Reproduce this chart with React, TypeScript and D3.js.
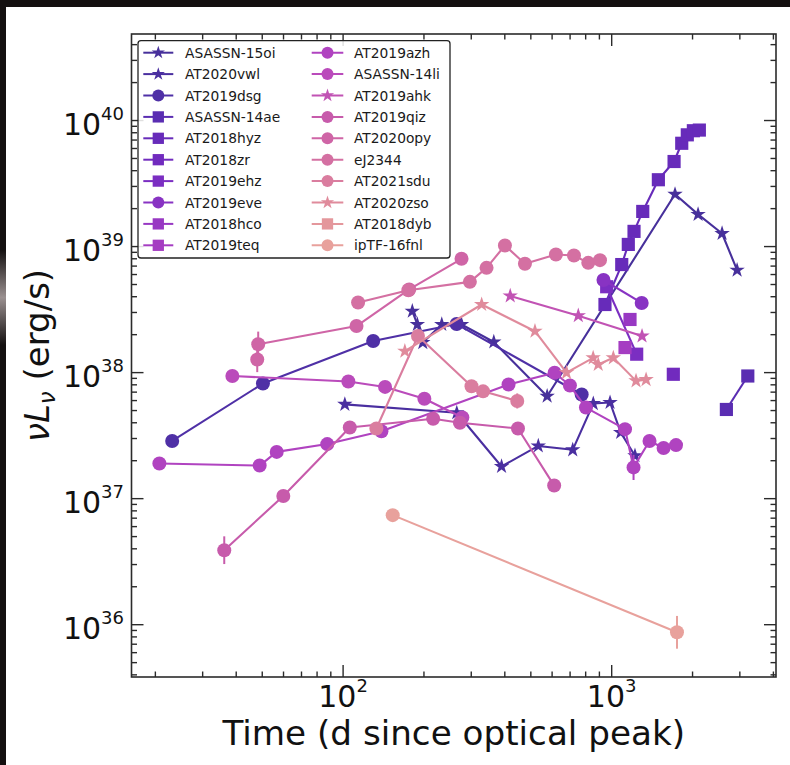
import React from 'react';
import * as d3 from 'd3';

// ---------- data (time in days since optical peak, nuL_nu in erg/s) ----------
const ASASSN_15oi_t = [181, 189, 198, 233, 276, 364, 575, 1721, 2097, 2576, 2930];
const ASASSN_15oi_L = [3.07e38, 2.41e38, 1.73e38, 2.41e38, 2.41e38, 1.75e38, 6.5e37, 2.6e39, 1.8e39, 1.27e39, 6.5e38];

const AT2020vwl_t = [101.5, 265, 389, 533, 716, 854, 986, 1080, 1221];
const AT2020vwl_L = [5.6e37, 4.8e37, 1.8e37, 2.62e37, 2.44e37, 5.68e37, 5.79e37, 3.35e37, 2.19e37];

const AT2019dsg_t = [23.1, 50.3, 129.4, 264.6, 773];
const AT2019dsg_L = [2.87e37, 8.2e37, 1.78e38, 2.43e38, 6.7e37];

const ASASSN_14ae_t = [2673, 3212];
const ASASSN_14ae_L = [5.1e37, 9.4e37];
const ASASSN_14ae_err = [0, 0.04];

const AT2018hyz_t = [944, 1090, 1153, 1211, 1305, 1492, 1707, 1823, 1912, 2014, 2120];
const AT2018hyz_L = [3.47e38, 7.2e38, 1.04e39, 1.32e39, 1.9e39, 3.39e39, 4.73e39, 6.6e39, 7.7e39, 8.3e39, 8.4e39];

const AT2018zr_t = [1696];
const AT2018zr_L = [9.7e37];

const AT2019ehz_t = [958, 1239];
const AT2019ehz_L = [4.8e38, 1.4e38];

const AT2019eve_t = [932, 1293];
const AT2019eve_L = [5.43e38, 3.57e38];

const AT2018hco_t = [1170];
const AT2018hco_L = [2.64e38];

const AT2019teq_t = [1121];
const AT2019teq_L = [1.58e38];

const AT2019azh_t = [20.7, 48.9, 56.6, 87.3, 138.9, 413, 613, 699, 802, 1121, 1206, 1383, 1560, 1736];
const AT2019azh_L = [1.9e37, 1.83e37, 2.35e37, 2.71e37, 3.43e37, 8.05e37, 9.97e37, 7.9e37, 5.28e37, 3.56e37, 1.77e37, 2.87e37, 2.52e37, 2.66e37];
const AT2019azh_err = [0, 0, 0, 0, 0, 0, 0, 0, 0, 0, 0.1, 0, 0, 0];

const ASASSN_14li_t = [38.7, 104.6, 143.3, 200.7, 278];
const ASASSN_14li_L = [9.4e37, 8.5e37, 7.7e37, 6.2e37, 4.4e37];

const AT2019ahk_t = [419, 751, 1297];
const AT2019ahk_L = [4.06e38, 2.83e38, 1.95e38];

const AT2019qiz_t = [36.1, 59.9, 105.9, 216.4, 272.2, 447.7, 610.7];
const AT2019qiz_L = [3.9e36, 1.05e37, 3.67e37, 4.3e37, 4.0e37, 3.6e37, 1.27e37];
const AT2019qiz_err = [0.11, 0, 0, 0, 0, 0, 0];

const AT2020opy_t = [47.9, 48.3, 112.2, 176.2, 276];
const AT2020opy_L = [1.27e38, 1.68e38, 2.34e38, 4.57e38, 8.0e38];
const AT2020opy_err = [0.1, 0.1, 0, 0, 0];

const eJ2344_t = [113.7, 175, 296.5, 342, 400.4, 475.3, 620, 723.6, 818, 904.4];
const eJ2344_L = [3.6e38, 4.5e38, 5.25e38, 6.78e38, 1.02e39, 7.3e38, 8.65e38, 8.5e38, 7.43e38, 7.8e38];

const AT2021sdu_t = [133, 190, 300.6, 332, 445];
const AT2021sdu_L = [3.6e37, 1.95e38, 7.8e37, 7.1e37, 5.96e37];
const AT2021sdu_err = [0, 0, 0, 0, 0.06];

const AT2020zso_t = [169.8, 328, 518, 679, 853, 891, 1014, 1232, 1343];
const AT2020zso_L = [1.48e38, 3.47e38, 2.13e38, 1.0e38, 1.31e38, 1.16e38, 1.31e38, 8.6e37, 8.8e37];

const AT2018dyb_t: number[] = [];
const AT2018dyb_L: number[] = [];

const ipTF_16fnl_t = [153, 1750];
const ipTF_16fnl_L = [7.4e36, 8.7e35];
const ipTF_16fnl_err = [0, 0.13];

const seriesNames = [
  'ASASSN-15oi', 'AT2020vwl', 'AT2019dsg', 'ASASSN-14ae', 'AT2018hyz', 'AT2018zr', 'AT2019ehz',
  'AT2019eve', 'AT2018hco', 'AT2019teq', 'AT2019azh', 'ASASSN-14li', 'AT2019ahk', 'AT2019qiz',
  'AT2020opy', 'eJ2344', 'AT2021sdu', 'AT2020zso', 'AT2018dyb', 'ipTF-16fnl',
];
const seriesMarkers = [
  'star', 'star', 'circle', 'square', 'square', 'square', 'square',
  'circle', 'square', 'square', 'circle', 'circle', 'star', 'circle',
  'circle', 'circle', 'circle', 'star', 'square', 'circle',
];
const seriesColors = [
  '#47309b', '#4a2fa0', '#4f30a6', '#5a2db2', '#672bba', '#712bbe', '#7b2ec2',
  '#8833c3', '#9838c3', '#a53dc2', '#b043c0', '#ba4bbb', '#c153b4', '#c75bab',
  '#cf65a6', '#d470a2', '#da7d9f', '#e08b9c', '#e4979c', '#e8a19c',
];
const seriesT = [
  ASASSN_15oi_t, AT2020vwl_t, AT2019dsg_t, ASASSN_14ae_t, AT2018hyz_t, AT2018zr_t, AT2019ehz_t,
  AT2019eve_t, AT2018hco_t, AT2019teq_t, AT2019azh_t, ASASSN_14li_t, AT2019ahk_t, AT2019qiz_t,
  AT2020opy_t, eJ2344_t, AT2021sdu_t, AT2020zso_t, AT2018dyb_t, ipTF_16fnl_t,
];
const seriesL = [
  ASASSN_15oi_L, AT2020vwl_L, AT2019dsg_L, ASASSN_14ae_L, AT2018hyz_L, AT2018zr_L, AT2019ehz_L,
  AT2019eve_L, AT2018hco_L, AT2019teq_L, AT2019azh_L, ASASSN_14li_L, AT2019ahk_L, AT2019qiz_L,
  AT2020opy_L, eJ2344_L, AT2021sdu_L, AT2020zso_L, AT2018dyb_L, ipTF_16fnl_L,
];
const seriesErr: (number[] | null)[] = [
  null, null, null, ASASSN_14ae_err, null, null, null,
  null, null, null, AT2019azh_err, null, null, AT2019qiz_err,
  AT2020opy_err, null, AT2021sdu_err, null, null, ipTF_16fnl_err,
];

const xMajor = [100, 1000];
const xMajorExp = ['2', '3'];
const yMajor = [1e36, 1e37, 1e38, 1e39, 1e40];
const yMajorExp = ['36', '37', '38', '39', '40'];
const xLabel = 'Time (d since optical peak)';

const FONT = "'DejaVu Sans', sans-serif";

function starPath(cx: number, cy: number, R: number) {
  const r = R * 0.381966;
  const pts: string[] = [];
  for (let i = 0; i < 10; i++) {
    const a = (-90 + i * 36) * Math.PI / 180;
    const rr = i % 2 === 0 ? R : r;
    pts.push(`${(cx + rr * Math.cos(a)).toFixed(2)},${(cy + rr * Math.sin(a)).toFixed(2)}`);
  }
  return 'M' + pts.join('L') + 'Z';
}

function Marker({ type, cx, cy, size, color }: { type: string; cx: number; cy: number; size: number; color: string }) {
  if (type === 'circle') return <circle cx={cx} cy={cy} r={size / 2} fill={color} />;
  if (type === 'square') return <rect x={cx - size * 0.47} y={cy - size * 0.47} width={size * 0.94} height={size * 0.94} fill={color} />;
  return <path d={starPath(cx, cy, size * 0.58)} fill={color} />;
}

export default function App() {
  const left = 131.5, right = 776, top = 34, bottom = 677;
  const x = d3.scaleLog().domain([16.3, 4090]).range([left, right]);
  const y = d3.scaleLog().domain([Math.pow(10, 35.585), Math.pow(10, 40.6865)]).range([bottom, top]);
  const line = d3.line<[number, number]>().x(d => x(d[0])).y(d => y(d[1]));

  const xMinor: number[] = [];
  [10, 100, 1000].forEach(b => { for (let k = 2; k <= 9; k++) { const v = b * k; if (v > 16.3 && v < 4090) xMinor.push(v); } });
  const yMinor: number[] = [];
  for (let e = 35; e <= 40; e++) for (let k = 2; k <= 9; k++) { const v = k * Math.pow(10, e); if (v > Math.pow(10, 35.585) && v < Math.pow(10, 40.6865)) yMinor.push(v); }

  const tickColor = '#2b2b2b';
  const majLen = 12, minLen = 5.5;

  const rowY0 = 52.7, rowDy = 21.4;

  return (
    <svg width={790} height={765} style={{ position: 'absolute', left: 0, top: 0, background: '#fff' }} xmlns="http://www.w3.org/2000/svg">
      <defs>
        <linearGradient id="streak" x1="0" y1="0" x2="0" y2="1">
          <stop offset="0" stopColor="#141010" />
          <stop offset="0.5" stopColor="#9a9090" />
          <stop offset="1" stopColor="#141010" />
        </linearGradient>
      </defs>
      <rect x={0} y={0} width={790} height={765} fill="#141010" />
      <rect x={0} y={250} width={6} height={95} fill="url(#streak)" />
      <rect x={6} y={7} width={784} height={758} fill="#ffffff" />

      {/* data */}
      <g>
        {seriesNames.map((name, si) => {
          const ts = seriesT[si], Ls = seriesL[si];
          const pts: [number, number][] = ts.map((t, i) => [t, Ls[i]]);
          const color = seriesColors[si];
          const err = seriesErr[si];
          return (
            <g key={name}>
              {pts.length > 1 && <path d={line(pts) || ''} fill="none" stroke={color} strokeWidth={2.1} strokeLinejoin="round" />}
              {err && pts.map((p, i) => err[i] > 0 ? (
                <line key={'e' + i} x1={x(p[0])} x2={x(p[0])} y1={y(p[1] * Math.pow(10, err[i]))} y2={y(p[1] / Math.pow(10, err[i]))} stroke={color} strokeWidth={2} />
              ) : null)}
              {pts.map((p, i) => (
                <Marker key={i} type={seriesMarkers[si]} cx={x(p[0])} cy={y(p[1])} size={14} color={color} />
              ))}
            </g>
          );
        })}
      </g>

      {/* frame & ticks */}
      <g stroke={tickColor} strokeWidth={1.4}>
        {xMajor.map(v => (
          <g key={'xm' + v}>
            <line x1={x(v)} x2={x(v)} y1={bottom} y2={bottom - majLen} />
            <line x1={x(v)} x2={x(v)} y1={top} y2={top + majLen} />
          </g>
        ))}
        {xMinor.map(v => (
          <g key={'xn' + v}>
            <line x1={x(v)} x2={x(v)} y1={bottom} y2={bottom - minLen} />
            <line x1={x(v)} x2={x(v)} y1={top} y2={top + minLen} />
          </g>
        ))}
        {yMajor.map(v => (
          <g key={'ym' + v}>
            <line x1={left} x2={left + majLen} y1={y(v)} y2={y(v)} />
            <line x1={right} x2={right - majLen} y1={y(v)} y2={y(v)} />
          </g>
        ))}
        {yMinor.map(v => (
          <g key={'yn' + v}>
            <line x1={left} x2={left + minLen} y1={y(v)} y2={y(v)} />
            <line x1={right} x2={right - minLen} y1={y(v)} y2={y(v)} />
          </g>
        ))}
        <rect x={left} y={top} width={right - left} height={bottom - top} fill="none" strokeWidth={1.6} />
      </g>

      {/* tick labels */}
      <g fontFamily={FONT} fill="#111">
        {xMajor.map((v, i) => (
          <text key={'xl' + v} x={x(v)} y={707} textAnchor="middle" fontSize={30}>
            10<tspan fontSize={18} dy={-15}>{xMajorExp[i]}</tspan>
          </text>
        ))}
        {yMajor.map((v, i) => (
          <text key={'yl' + v} x={124} y={y(v) + 14} textAnchor="end" fontSize={30}>
            10<tspan fontSize={18} dy={-15}>{yMajorExp[i]}</tspan>
          </text>
        ))}
      </g>

      {/* axis titles */}
      <text x={(left + right) / 2} y={745} textAnchor="middle" fontFamily={FONT} fontSize={34.2} fill="#111">{xLabel}</text>
      <text transform={`translate(49,${(top + bottom) / 2}) rotate(-90)`} textAnchor="middle" fontFamily={FONT} fontSize={34} fill="#111">
        <tspan fontStyle="italic">ν</tspan><tspan fontStyle="italic">L</tspan><tspan fontStyle="italic" fontSize={23} dy={6}>ν</tspan><tspan dy={-6}> (erg/s)</tspan>
      </text>

      {/* legend */}
      <g>
        <rect x={138} y={40.7} width={312} height={217.3} rx={3} fill="#fff" fillOpacity={0.85} stroke="#222" strokeWidth={1.3} />
        {seriesNames.map((name, si) => {
          const col = si < 10 ? 0 : 1;
          const row = si % 10;
          const cy = rowY0 + row * rowDy;
          const hx0 = col === 0 ? 143.3 : 311.7;
          const hx1 = col === 0 ? 173.3 : 343.3;
          const mx = (hx0 + hx1) / 2;
          const tx = col === 0 ? 185 : 354;
          const color = seriesColors[si];
          return (
            <g key={'lg' + name}>
              <line x1={hx0} x2={hx1} y1={cy} y2={cy} stroke={color} strokeWidth={2} />
              <Marker type={seriesMarkers[si]} cx={mx} cy={cy} size={12} color={color} />
              <text x={tx} y={cy + 5} fontFamily={FONT} fontSize={13.8} fill="#1a1a1a">{name}</text>
            </g>
          );
        })}
      </g>
    </svg>
  );
}
